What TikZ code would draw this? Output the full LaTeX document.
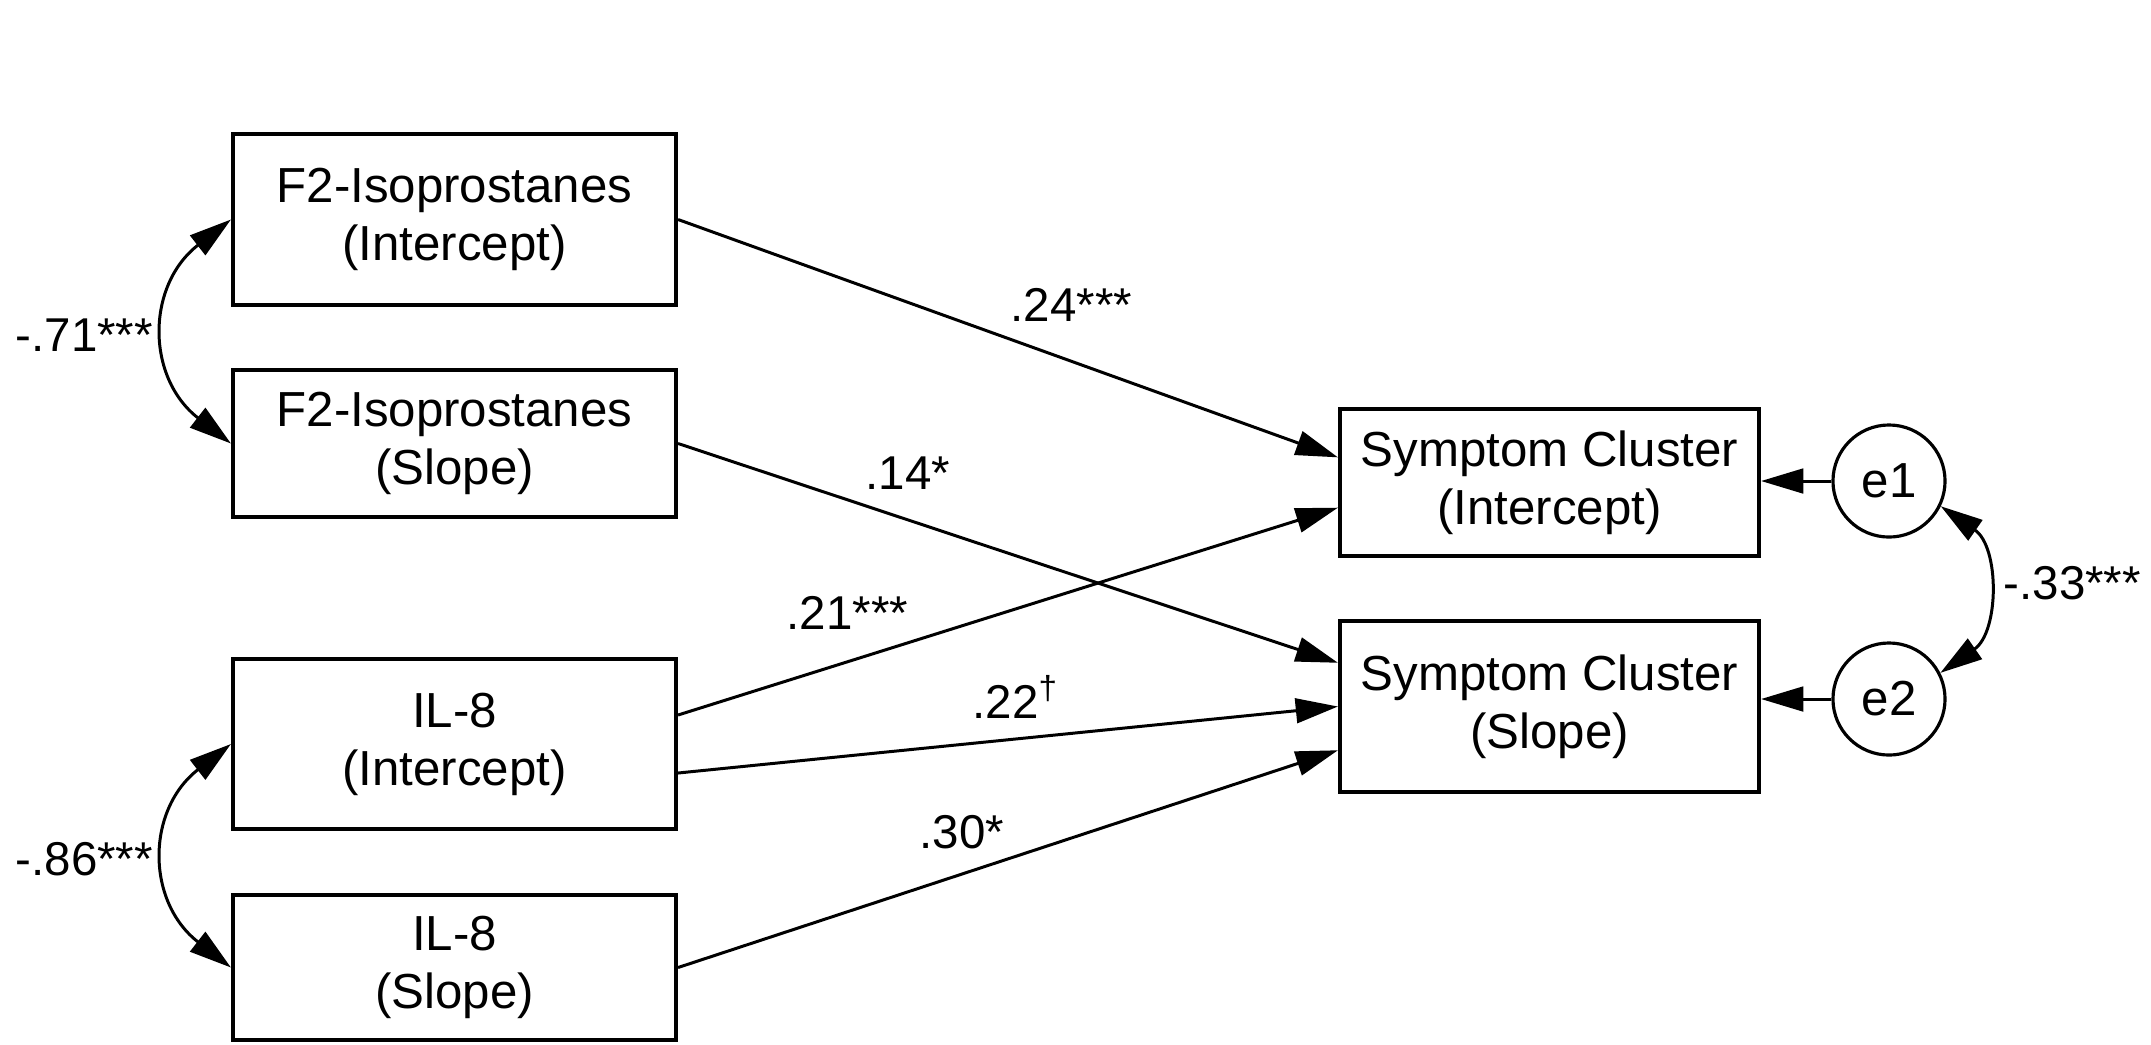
\documentclass[tikz,border=0pt]{standalone}
\usepackage{fontspec}
\setmainfont{Liberation Sans}
\usetikzlibrary{arrows.meta,calc}
\begin{document}
\begin{tikzpicture}[x=0.01cm,y=-0.01cm,
  font=\fontsize{14}{16.5}\selectfont,
  varbox/.style={draw,line width=1.1pt,inner sep=0pt,align=center,minimum width=4.43cm},
  errc/.style={draw,circle,line width=0.9pt,minimum size=1.12cm,inner sep=0pt},
  pathArrow/.style={line width=0.85pt,-{Triangle[length=12pt,width=7pt]}},
  cov/.style={line width=0.85pt,{Triangle[length=12pt,width=7pt]}-{Triangle[length=12pt,width=7pt]}},
  lab/.style={inner sep=0pt,anchor=base west,font=\fontsize{13.5}{16}\selectfont}]
\fill[white] (0,0) rectangle (2151,1044);
\useasboundingbox (0,0) rectangle (2151,1044);
% observed variables
\node[varbox,minimum height=1.71cm] (F2i) at (454.5,219.5) {F2-Isoprostanes\\(Intercept)};
\node[varbox,minimum height=1.47cm] (F2s) at (454.5,443.5) {F2-Isoprostanes\\(Slope)};
\node[varbox,minimum height=1.70cm] (IL8i) at (454.5,744) {IL-8\\(Intercept)};
\node[varbox,minimum height=1.45cm] (IL8s) at (454.5,967.5) {IL-8\\(Slope)};
\node[varbox,minimum width=4.19cm,minimum height=1.47cm] (SCi) at (1549.5,482.5) {Symptom Cluster\\(Intercept)};
\node[varbox,minimum width=4.19cm,minimum height=1.71cm] (SCs) at (1549.5,706.5) {Symptom Cluster\\(Slope)};
% errors
\node[errc] (e1) at (1889,481) {e1};
\node[errc] (e2) at (1889,699) {e2};
% paths
\draw[pathArrow] (F2i.east) -- ($(SCi.north west)!0.3333!(SCi.south west)$);
\draw[pathArrow] (F2s.east) -- ($(SCs.north west)!0.25!(SCs.south west)$);
\draw[pathArrow] ($(IL8i.north east)!0.3333!(IL8i.south east)$) -- ($(SCi.north west)!0.6667!(SCi.south west)$);
\draw[pathArrow] ($(IL8i.north east)!0.6667!(IL8i.south east)$) -- (SCs.west);
\draw[pathArrow] (IL8s.east) -- ($(SCs.north west)!0.75!(SCs.south west)$);
\draw[pathArrow] (e1.west) -- (e1.west -| SCi.east);
\draw[pathArrow] (e2.west) -- (e2.west -| SCs.east);
% covariances
\draw[cov] (F2i.west) .. controls +(-85,66) and +(-85,-66) .. (F2s.west);
\draw[cov] (IL8i.west) .. controls +(-85,66) and +(-85,-66) .. (IL8s.west);
\draw[cov] (e1.-26) .. controls +(59,41) and +(59,-41) .. (e2.27);
% labels
\node[lab] (l71) at (15,351) {-.71***};
\node[lab] (l86) at (15,875) {-.86***};
\node[lab] (l33) at (2003,599) {-.33***};
\node[lab] (l24) at (1010,321) {.24***};
\node[lab] (l14) at (865,489) {.14*};
\node[lab] (l21) at (786,629) {.21***};
\node[lab] (l22) at (972,718) {.22\textsuperscript{†}};
\node[lab] (l30) at (919,848) {.30*};
\end{tikzpicture}
\end{document}
